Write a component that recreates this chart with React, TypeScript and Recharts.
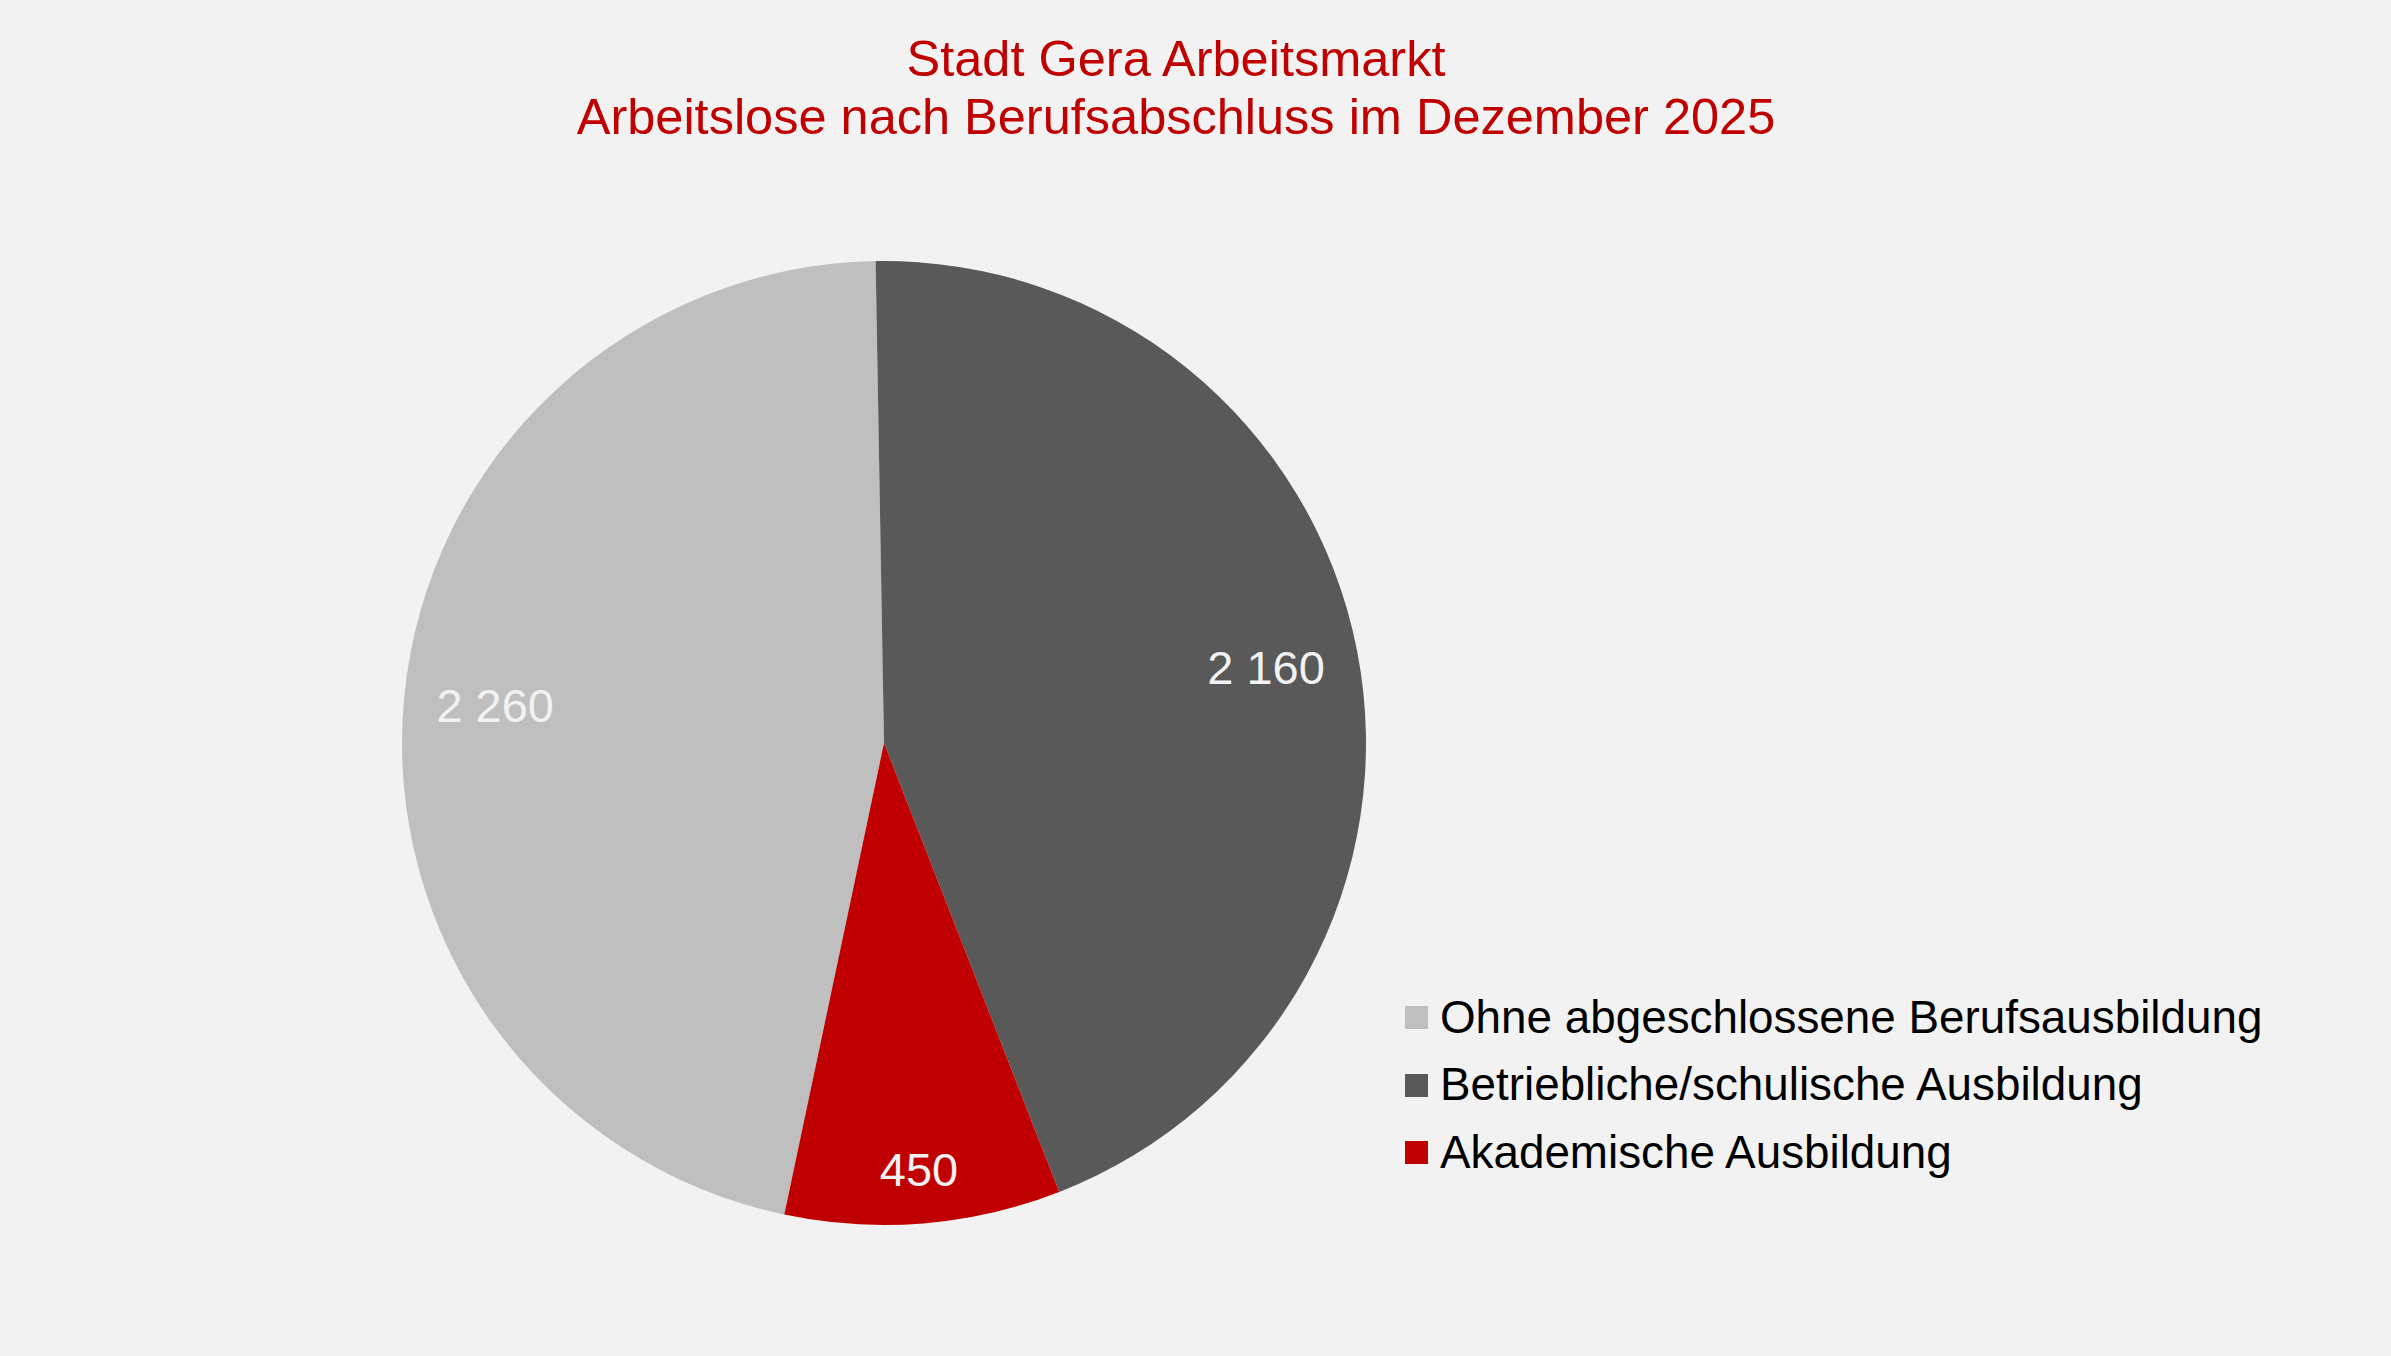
import React from 'react';
import { PieChart, Pie, Cell, Legend } from 'recharts';

const categories = [
  'Ohne abgeschlossene Berufsausbildung',
  'Betriebliche/schulische Ausbildung',
  'Akademische Ausbildung',
];
const values = [2260, 2160, 450];
const colors = ['#BFBFBF', '#595959', '#C00000'];
const titleLines = ['Stadt Gera Arbeitsmarkt', 'Arbeitslose nach Berufsabschluss im Dezember 2025'];

const data = categories.map((name, i) => ({ name, value: values[i], color: colors[i] }));

const FONT = '"Liberation Sans", Arial, sans-serif';
const RAD = Math.PI / 180;
const LABEL_SIZE = 47;

// thousands separated by a space, like the source
const fmt = (v: number) => String(v).replace(/\B(?=(\d{3})+(?!\d))/g, ' ');

// "inside end" placement: push the label box out until it sits just inside the rim
const renderLabel = (props: any) => {
  const { cx, cy, midAngle, outerRadius, value } = props;
  const text = fmt(value);
  const w = text.replace(/ /g, '').length * 0.556 * LABEL_SIZE + (text.split(' ').length - 1) * 0.278 * LABEL_SIZE;
  const h = 40;
  const cos = Math.cos(-midAngle * RAD);
  const sin = Math.sin(-midAngle * RAD);
  const d = outerRadius - 31 - (Math.abs(cos) * w) / 2 - (Math.abs(sin) * h) / 2;
  return (
    <text
      x={cx + d * cos}
      y={cy + d * sin}
      fill="#F2F2F2"
      textAnchor="middle"
      dominantBaseline="central"
      style={{ fontFamily: FONT, fontSize: LABEL_SIZE }}
    >
      {text}
    </text>
  );
};

const LegendContent = () => (
  <div style={{ fontFamily: FONT, fontSize: 45.8, color: '#000' }}>
    {data.map((d) => (
      <div key={d.name} style={{ display: 'flex', alignItems: 'center', height: 67.5 }}>
        <span style={{ width: 23, height: 23, background: d.color, marginRight: 12, flex: 'none' }} />
        <span style={{ whiteSpace: 'nowrap' }}>{d.name}</span>
      </div>
    ))}
  </div>
);

const firstSliceAngle = 191.94; // clockwise from 12 o'clock

export default function App() {
  const start = 90 - firstSliceAngle;
  return (
    <div style={{ position: 'absolute', left: 0, top: 0, width: 2391, height: 1356, background: '#F2F2F2', overflow: 'hidden' }}>
      <div
        style={{
          position: 'absolute',
          left: 0,
          top: 30,
          width: 2352,
          textAlign: 'center',
          fontFamily: FONT,
          fontSize: 50.5,
          lineHeight: '58px',
          color: '#C00000',
        }}
      >
        {titleLines.map((t) => (
          <div key={t}>{t}</div>
        ))}
      </div>
      <PieChart width={2391} height={1356} margin={{ top: 0, right: 0, bottom: 0, left: 0 }}>
        <Pie
          data={data}
          dataKey="value"
          nameKey="name"
          cx={884}
          cy={743}
          outerRadius={482}
          startAngle={start}
          endAngle={start - 360}
          stroke="none"
          label={renderLabel}
          labelLine={false}
          isAnimationActive={false}
        >
          {data.map((d) => (
            <Cell key={d.name} fill={d.color} />
          ))}
        </Pie>
        <Legend
          content={<LegendContent />}
          layout="vertical"
          wrapperStyle={{ left: 1405, top: 984, width: 950, bottom: 'auto', right: 'auto' }}
        />
      </PieChart>
    </div>
  );
}
